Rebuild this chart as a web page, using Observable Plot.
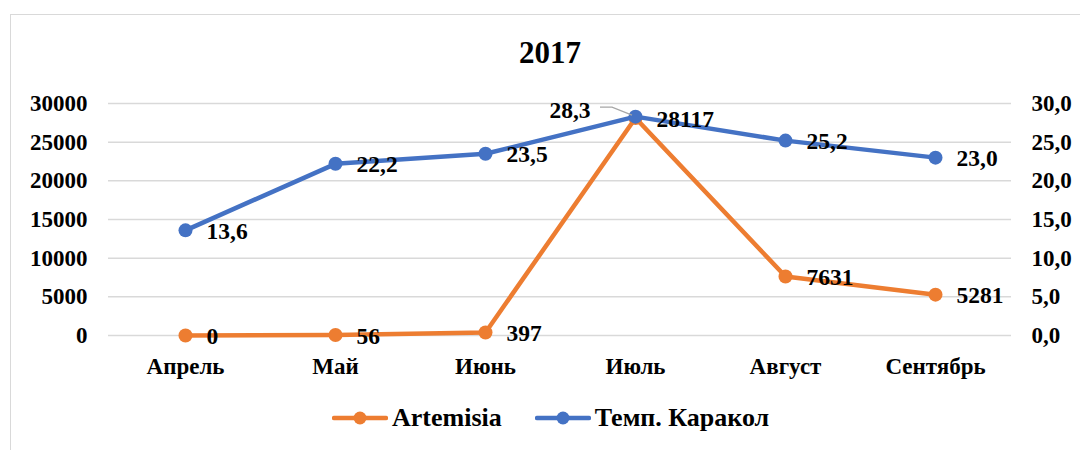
<!DOCTYPE html>
<html>
<head>
<meta charset="utf-8">
<script src="https://cdn.jsdelivr.net/npm/d3@7"></script>
<script src="https://cdn.jsdelivr.net/npm/@observablehq/plot@0.6"></script>
<style>
  html, body { margin: 0; padding: 0; background: #fff; }
  #wrap { position: relative; width: 1080px; height: 450px; overflow: hidden; font-family: "Liberation Serif", "Times New Roman", serif; font-weight: bold; color: #000; }
  #frame { position: absolute; left: 10px; top: 14px; width: 1100px; height: 480px; border: 1.5px solid #d9d9d9; box-sizing: border-box; }
  #title { position: absolute; left: 0; width: 1100px; top: 37px; text-align: center; font-size: 31px; line-height: 31px; }
  #chart { position: absolute; left: 0; top: 0; }
  #legend { position: absolute; top: 404px; left: 332px; display: flex; align-items: center; font-size: 26px; line-height: 28px; white-space: nowrap; }
  #legend .item { display: flex; align-items: center; }
  #legend svg { display: block; margin-right: 4px; }
</style>
</head>
<body>
<div id="wrap">
  <div id="frame"></div>
  <div id="title">2017</div>
  <div id="chart"></div>
  <div id="legend"></div>
</div>
<script>
const months = ["Апрель", "Май", "Июнь", "Июль", "Август", "Сентябрь"];
const artemisia = [0, 56, 397, 28117, 7631, 5281];
const tempKarakol = [13.6, 22.2, 23.5, 28.3, 25.2, 23.0];
const leftTicks = [0, 5000, 10000, 15000, 20000, 25000, 30000];
const rightTicks = [0, 5, 10, 15, 20, 25, 30];
const seriesNames = ["Artemisia", "Темп. Каракол"];
const seriesColors = ["#ED7D31", "#4472C4"];
const axisRatio = 1000; // secondary axis 0–30 maps to primary 0–30000

const art = months.map((m, i) => ({month: m, value: artemisia[i], label: String(artemisia[i])}));
const temp = months.map((m, i) => ({month: m, value: tempKarakol[i] * axisRatio, label: tempKarakol[i].toFixed(1).replace(".", ",")}));
const tempRightLabels = temp.filter(d => d.month !== "Июль");
const tempLeftLabels = temp.filter(d => d.month === "Июль");

const serif = "'Liberation Serif', 'Times New Roman', serif";
const chart = Plot.plot({
  width: 1080,
  height: 390,
  marginLeft: 108,
  marginRight: 69,
  marginTop: 103,
  marginBottom: 55,
  x: {type: "point", domain: months, padding: 0.5, label: null},
  y: {domain: [0, 30000], label: null},
  style: {fontFamily: serif, fontWeight: "bold", fontSize: "23px", color: "#000", background: "transparent", overflow: "visible"},
  marks: [
    Plot.gridY(leftTicks, {stroke: "#d9d9d9", strokeOpacity: 1, strokeWidth: 1.5}),
    Plot.axisY(leftTicks, {anchor: "left", tickSize: 0, tickPadding: 21, tickFormat: d => String(d), fontSize: 23, fontWeight: "bold", fontFamily: serif, label: null}),
    Plot.axisY(rightTicks.map(t => t * axisRatio), {anchor: "right", tickSize: 0, tickPadding: 20, tickFormat: d => (d / axisRatio).toFixed(1).replace(".", ","), fontSize: 23, fontWeight: "bold", fontFamily: serif, label: null}),
    Plot.axisX({tickSize: 0, tickPadding: 22, fontSize: 23, fontWeight: "bold", fontFamily: serif, label: null}),
    Plot.line(art, {x: "month", y: "value", stroke: seriesColors[0], strokeWidth: 4.5, strokeLinejoin: "round", strokeLinecap: "round"}),
    Plot.dot(art, {x: "month", y: "value", r: 7, fill: seriesColors[0], stroke: "none"}),
    Plot.line(temp, {x: "month", y: "value", stroke: seriesColors[1], strokeWidth: 4.5, strokeLinejoin: "round", strokeLinecap: "round"}),
    Plot.dot(temp, {x: "month", y: "value", r: 7, fill: seriesColors[1], stroke: "none"}),
    Plot.text(art, {x: "month", y: "value", text: "label", textAnchor: "start", dx: 21, dy: 1, fontSize: 23.5, fontWeight: "bold", fontFamily: serif, fill: "#000"}),
    Plot.text(tempRightLabels, {x: "month", y: "value", text: "label", textAnchor: "start", dx: 21, dy: 1, fontSize: 23.5, fontWeight: "bold", fontFamily: serif, fill: "#000"}),
    Plot.text(tempLeftLabels, {x: "month", y: "value", text: "label", textAnchor: "end", dx: -45, dy: -6, fontSize: 23.5, fontWeight: "bold", fontFamily: serif, fill: "#000"})
  ]
});
document.getElementById("chart").appendChild(chart);

// leader line for the July temperature label, positioned through the plot's scales
const xs = chart.scale("x"), ys = chart.scale("y");
const px = xs.apply("Июль"), py = ys.apply(tempKarakol[3] * axisRatio);
d3.select(chart).append("path")
  .attr("d", d3.line()([[px - 35, py - 9], [px - 23, py - 9], [px - 3, py - 1]]))
  .attr("fill", "none").attr("stroke", "#a6a6a6").attr("stroke-width", 1.2);

// legend
const legend = d3.select("#legend");
seriesNames.forEach((name, i) => {
  const item = legend.append("div").attr("class", "item").style("margin-right", i === 0 ? "33px" : "0");
  const sw = item.append("svg").attr("width", 56).attr("height", 20);
  sw.append("line").attr("x1", 2).attr("x2", 54).attr("y1", 10).attr("y2", 10)
    .attr("stroke", seriesColors[i]).attr("stroke-width", 4.5).attr("stroke-linecap", "round");
  sw.append("circle").attr("cx", 28).attr("cy", 10).attr("r", 6.5).attr("fill", seriesColors[i]);
  item.append("span").text(name);
});
</script>
</body>
</html>
